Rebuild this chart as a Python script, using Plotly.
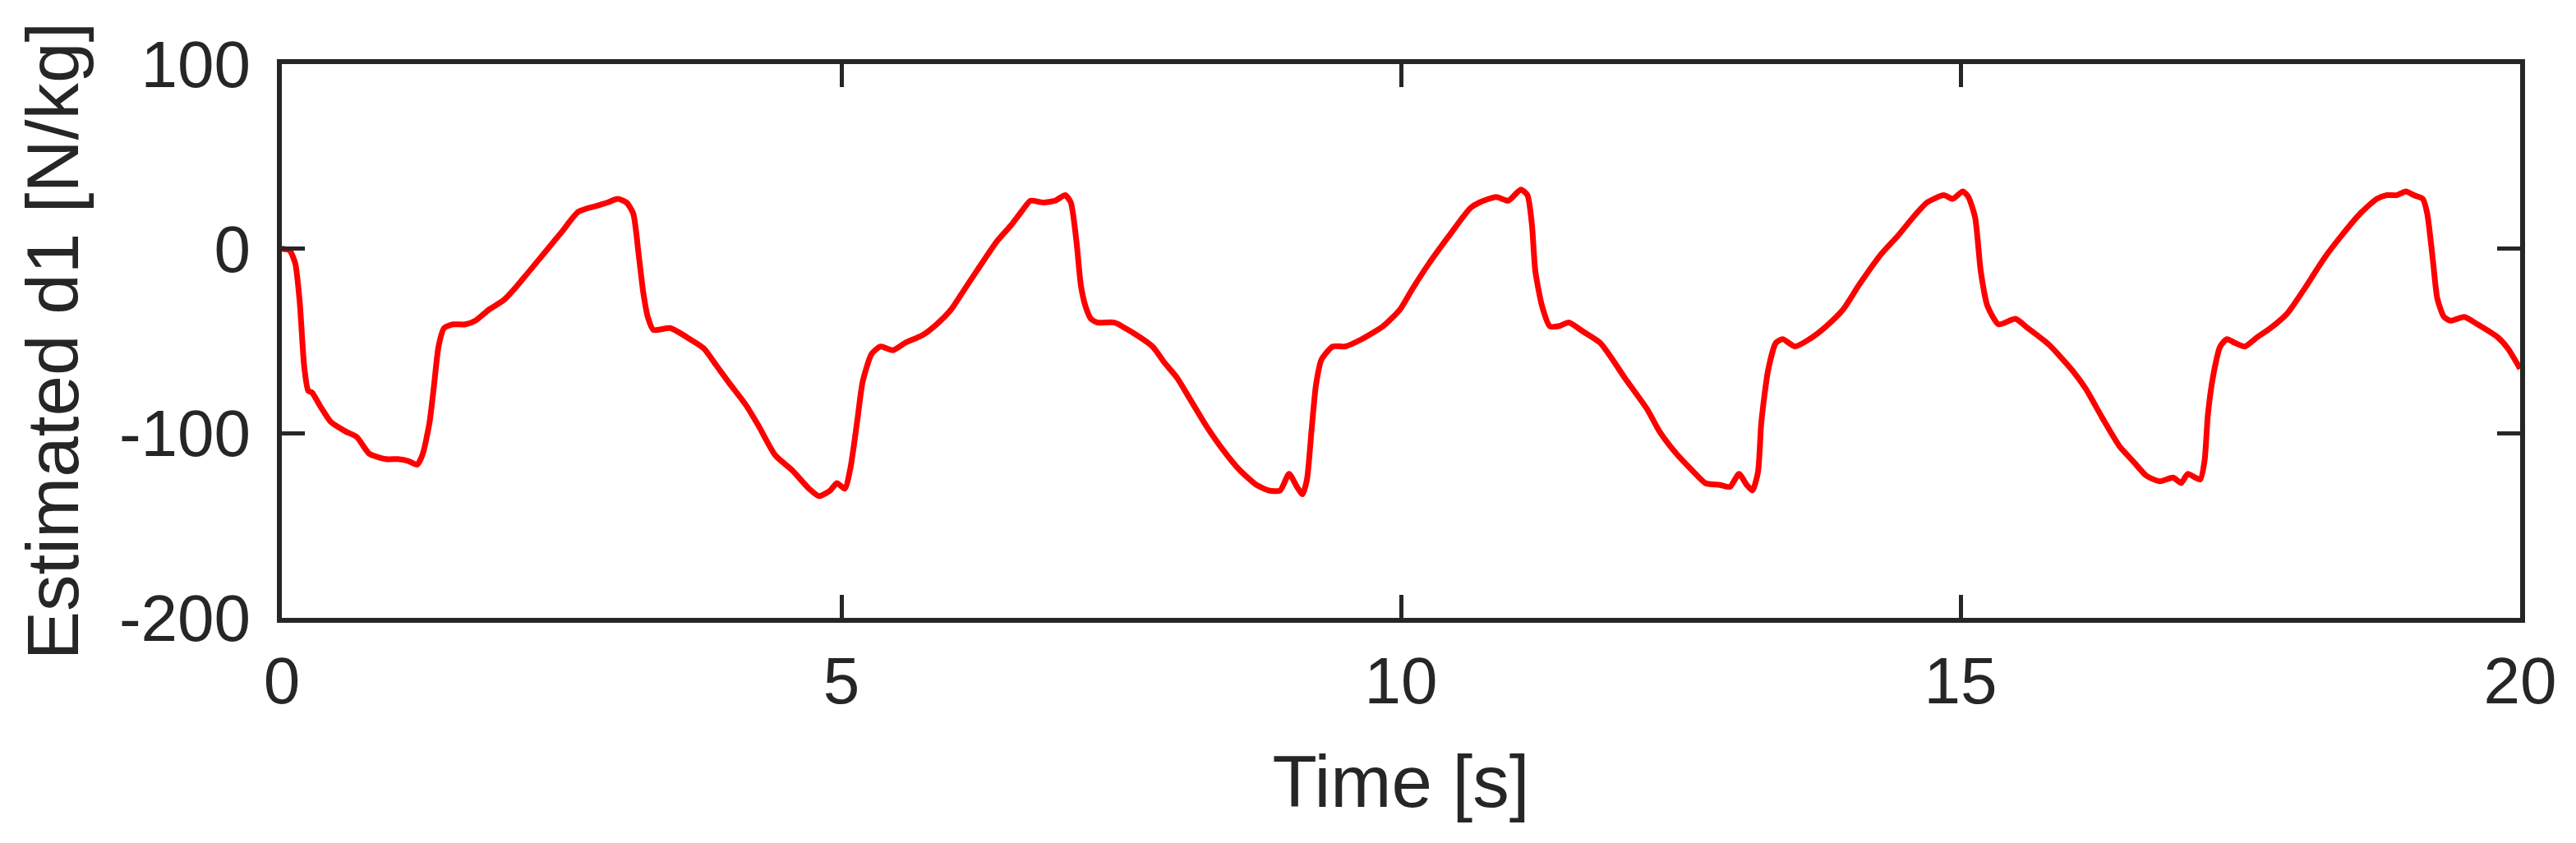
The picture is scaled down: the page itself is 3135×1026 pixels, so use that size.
import plotly.graph_objects as go

# Time [s]
time_s = [
    0, 0.07, 0.12, 0.16, 0.2, 0.236, 0.27, 0.35, 0.44, 0.57, 0.67, 0.78, 0.93, 1.04, 1.13, 1.21, 1.26, 1.32, 1.36, 1.40, 1.45,
    1.53, 1.64, 1.73, 1.85, 1.98, 2.09, 2.2, 2.35, 2.5, 2.65, 2.8, 2.91, 3.0, 3.08, 3.14, 3.19, 3.23, 3.27, 3.32,
    3.47, 3.62, 3.77, 3.88, 4.0, 4.15, 4.26, 4.41, 4.56, 4.71, 4.8, 4.9, 4.96, 5.03, 5.08, 5.14,
    5.19, 5.27, 5.35, 5.46, 5.57, 5.72, 5.85, 5.98, 6.1, 6.21, 6.39, 6.52, 6.62, 6.69, 6.8, 6.91, 7.0, 7.05, 7.1, 7.14, 7.18, 7.23, 7.29,
    7.44, 7.59, 7.78, 7.89, 8.0, 8.11, 8.26, 8.41, 8.56, 8.71, 8.82, 8.92, 9.0, 9.07, 9.12, 9.16, 9.2, 9.24, 9.29, 9.39,
    9.5, 9.65, 9.84, 9.99, 10.1, 10.25, 10.43, 10.62, 10.7, 10.85, 10.96, 11.07, 11.13, 11.17, 11.2, 11.26, 11.33, 11.41,
    11.5, 11.63, 11.78, 11.89, 12.0, 12.2, 12.31, 12.46, 12.6, 12.72, 12.85, 12.94, 13.02, 13.09, 13.14, 13.19, 13.22, 13.28, 13.35, 13.41,
    13.52, 13.65, 13.8, 13.95, 14.1, 14.29, 14.44, 14.59, 14.7, 14.85, 14.93, 15.02, 15.07, 15.13, 15.18, 15.24, 15.34, 15.49, 15.6,
    15.79, 16.0, 16.12, 16.27, 16.42, 16.54, 16.66, 16.78, 16.9, 16.97, 17.03, 17.14, 17.18, 17.21, 17.26, 17.32, 17.38, 17.45,
    17.54, 17.65, 17.77, 17.92, 18.07, 18.24, 18.39, 18.57, 18.72, 18.81, 18.9, 18.98, 19.05, 19.13, 19.17, 19.22, 19.26, 19.32, 19.38, 19.5, 19.62, 19.8, 19.89, 20.0,
]

# Estimated d1 [N/kg]
estimated_d1 = [
    0, -1, -8, -29, -64, -77, -78, -86, -94, -99, -102, -111, -114, -114, -115, -117, -111, -94, -74, -53, -43,
    -41, -41, -39, -33, -28, -21, -13, -2, 9, 20, 23, 25, 27, 25, 19, -4, -24, -37, -44,
    -43, -48, -54, -63, -73, -85, -96, -112, -120, -130, -134, -131, -127, -130, -119, -94,
    -72, -57, -53, -55, -51, -47, -41, -33, -22, -12, 4, 13, 21, 26, 25, 26, 29, 25, 4, -20, -31, -38, -40,
    -40, -45, -53, -62, -70, -81, -96, -109, -120, -128, -131, -131, -122, -129, -133, -125, -99, -74, -60, -53,
    -53, -49, -42, -33, -22, -8, 7, 22, 25, 28, 26, 32, 29, 13, -12, -31, -42, -42,
    -40, -45, -51, -60, -70, -87, -99, -111, -120, -127, -128, -129, -122, -128, -131, -121, -94, -66, -51, -49,
    -53, -49, -42, -33, -19, -3, 7, 18, 25, 29, 27, 31, 28, 17, -12, -31, -41, -38, -43,
    -52, -66, -76, -92, -107, -115, -123, -126, -124, -127, -122, -125, -115, -90, -68, -53, -49, -51,
    -53, -48, -43, -35, -22, -6, 6, 19, 27, 29, 29, 31, 29, 27, 19, -6, -27, -37, -39, -37, -41, -48, -54, -65,
]

assert len(time_s) == len(estimated_d1)

x_tick_vals = [0, 5, 10, 15, 20]
x_tick_text = ["0", "5", "10", "15", "20"]
y_tick_vals = [-200, -100, 0, 100]
y_tick_text = ["-200", "-100", "0", "100"]

AX = "#262626"
FONT = "Liberation Sans, Arial, Helvetica, sans-serif"

fig = go.Figure()
fig.add_trace(go.Scatter(
    x=time_s, y=estimated_d1, mode="lines",
    line=dict(color="#ff0000", width=7, shape="spline", smoothing=0.6),
    showlegend=False, hoverinfo="skip",
))

axis_common = dict(
    showgrid=False, zeroline=False,
    showline=True, linecolor=AX, linewidth=6, mirror="allticks",
    ticks="inside", ticklen=28, tickwidth=5, tickcolor=AX,
    tickfont=dict(family=FONT, size=80, color=AX),
)

fig.update_xaxes(
    range=[0, 20], tickmode="array", tickvals=x_tick_vals, ticktext=x_tick_text,
    ticklabelstandoff=2,
    title=dict(text="Time [s]", font=dict(family=FONT, size=89, color=AX), standoff=50),
    **axis_common,
)
fig.update_yaxes(
    range=[-200, 100], tickmode="array", tickvals=y_tick_vals, ticktext=y_tick_text,
    ticklabelstandoff=16,
    title=dict(text="Estimated d1 [N/kg]", font=dict(family=FONT, size=89, color=AX), standoff=22),
    **axis_common,
)

fig.update_layout(
    width=3135, height=1026,
    margin=dict(l=343, r=68, t=78, b=274, pad=0),
    paper_bgcolor="white", plot_bgcolor="white",
    font=dict(family=FONT, color=AX),
)

fig.write_html(
    "out.html",
    config={"displayModeBar": False},
    post_script="document.body.style.margin='0';document.body.style.padding='0';",
)
